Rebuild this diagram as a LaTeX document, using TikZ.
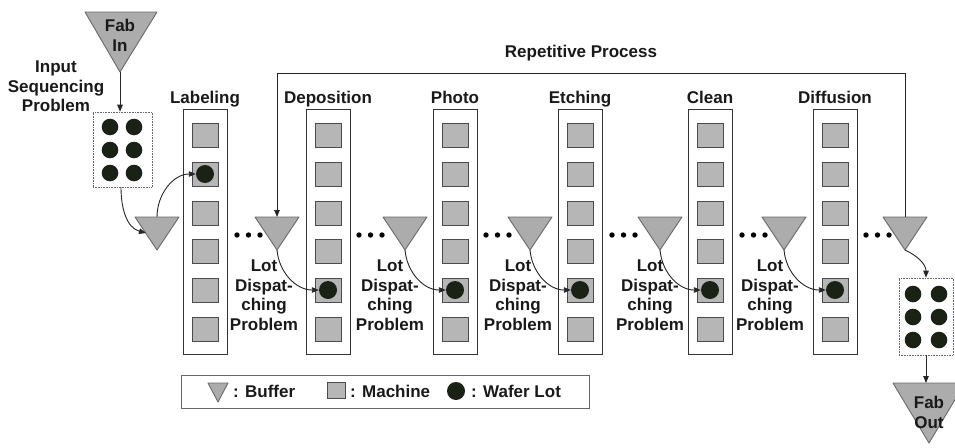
\documentclass[tikz,border=0pt]{standalone}
\usepackage{fontspec}
\setmainfont{Liberation Sans}
\usetikzlibrary{arrows.meta}
\definecolor{bufgray}{RGB}{172,172,172}
\definecolor{bufline}{RGB}{105,105,105}
\definecolor{macgray}{RGB}{182,182,182}
\definecolor{macline}{RGB}{75,75,75}
\definecolor{wafercol}{RGB}{26,34,22}
\begin{document}
\begin{tikzpicture}[x=1pt,y=-1pt,
  lbl/.style={font=\fontsize{17}{19.5}\selectfont\bfseries, inner sep=0pt, align=center, text=black!90},
  column/.style={draw=black!80, line width=0.9pt, fill=white, minimum width=44pt, minimum height=245pt, inner sep=0pt},
  machine/.style={draw=macline, line width=0.9pt, fill=macgray, minimum width=26pt, minimum height=24pt, inner sep=0pt},
  wafer/.style={circle, fill=wafercol, minimum size=18pt, inner sep=0pt},
  buffer/.style={draw=bufline, line width=0.9pt, fill=bufgray, line join=round},
  lotbox/.style={draw=black!60, densely dotted, line width=0.6pt, fill=white, inner sep=0pt},
  legendbox/.style={draw=black!60, line width=1pt, inner sep=0pt},
  arr/.style={line width=0.9pt, draw=black!85, -{Triangle[length=7pt,width=5.5pt]}}]
\useasboundingbox (0,0) rectangle (955,447);
\clip (0,0) rectangle (955,447);

% Fab In
\draw[buffer] (85,12) -- (157,12) -- (120,72) -- cycle;
\coordinate (fabin-apex) at (120,72);
\node[lbl,anchor=north] (fabin) at (120,19) {Fab\\In};

% Input sequencing
\node[lbl,anchor=north] (isp) at (56,61) {Input\\Sequencing\\Problem};
\node[lotbox, minimum width=59pt, minimum height=75pt] (inbox) at (122.5,149.5) {};
\foreach \cx in {110,134} \foreach \cy in {127,150,173}
  \fill[wafercol] (\cx,\cy) circle (8.3);

% Columns with machines
\foreach \n/\x/\name in {1/183/Labeling,2/306/Deposition,3/433/Photo,4/558/Etching,5/688/Clean,6/813/Diffusion}{
  \node[column] (c\n) at (\x+22,231.5) {};
  \node[lbl,anchor=base] (t\n) at (\x+22,103) {\name};
  \foreach \r/\y in {1/135,2/174,3/213,4/251,5/290,6/329}
    \node[machine] (m\n-\r) at (\x+22,\y) {};
}
\node[wafer] (w1) at (m1-2) {};
\foreach \n in {2,...,6} \node[wafer] (w\n) at (m\n-5) {};

% Buffers
\foreach \n/\x in {1/157,2/277,3/405,4/530,5/660,6/784,7/905}{
  \draw[buffer] (\x-22,217) -- (\x+22,217) -- (\x,250) -- cycle;
  \coordinate (b\n-top) at (\x,217);
  \coordinate (b\n-apex) at (\x,250);
}
\coordinate (b1-left) at (146,233);

% dots
\foreach \xr in {227,349,476,602,732,856} \foreach \d in {10,21.5,33}
  \fill[black] (\xr+\d,235) circle (2.7);

% Lot dispatching labels
\foreach \n/\x in {1/264,2/390,3/518,4/650,5/770}
  \node[lbl,anchor=north] (ldp\n) at (\x,260) {Lot\\Dispat-\\ching\\Problem};

% Output
\node[lotbox, minimum width=54pt, minimum height=77pt] (outbox) at (926,316.5) {};
\foreach \cx in {913,939} \foreach \cy in {294,317,340}
  \fill[wafercol] (\cx,\cy) circle (8.3);
\draw[buffer] (893,383) -- (965,383) -- (929,443) -- cycle;
\coordinate (fabout-top) at (926,383);
\node[lbl,anchor=north] (fabout) at (929,396) {Fab\\Out};

% Repetitive loop
\coordinate (loopR) at (905,73);
\coordinate (loopL) at (277,73);
\draw[arr] (b7-top) -- (loopR) -- (loopL) -- (b2-top);
\node[lbl,anchor=base] (rep) at (581,57) {Repetitive Process};

% Arrows
\draw[arr] (fabin-apex) -- (fabin-apex |- inbox.north);
\draw[arr] (inbox.south -| 121,0) to[out=-90,in=165] (b1-left);
\draw[arr] (b1-top) to[out=90,in=180] (w1.west);
\foreach \n in {2,...,6}
  \draw[arr] (b\n-apex) to[out=-85,in=180] (w\n.west);
\draw[arr] (b7-apex) to[out=-25,in=90] (outbox.north);
\draw[arr] (outbox.south) -- (fabout-top);

% Legend
\node[legendbox, minimum width=408pt, minimum height=33pt] (legend) at (385,391.5) {};
\draw[buffer] (208,383) -- (228,383) -- (218,402) -- cycle;
\node[lbl,anchor=base west] (lg1) at (233,397) {: Buffer};
\node[machine, minimum width=18pt, minimum height=16pt] (lgm) at (336,390) {};
\node[lbl,anchor=base west] (lg2) at (350,397) {: Machine};
\node[wafer] (lgw) at (456,391) {};
\node[lbl,anchor=base west] (lg3) at (471,397) {: Wafer Lot};
\end{tikzpicture}
\end{document}
